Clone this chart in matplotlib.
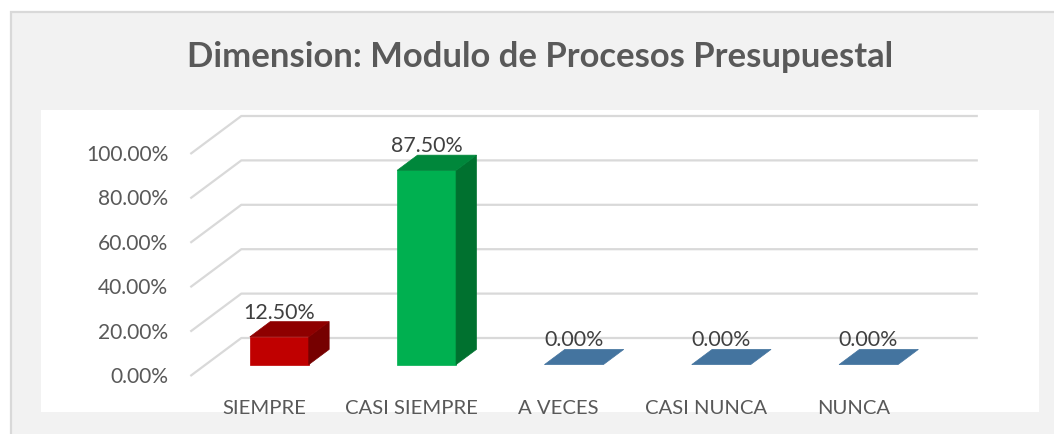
import matplotlib
matplotlib.use('Agg')
import matplotlib.pyplot as plt
from matplotlib.patches import Polygon, Rectangle

# ---------------- data ----------------
categories = ['SIEMPRE', 'CASI SIEMPRE', 'A VECES', 'CASI NUNCA', 'NUNCA']
values = [0.125, 0.875, 0.0, 0.0, 0.0]
value_labels = ['12.50%', '87.50%', '0.00%', '0.00%', '0.00%']
y_ticks = [0.0, 0.2, 0.4, 0.6, 0.8, 1.0]
y_tick_labels = ['0.00%', '20.00%', '40.00%', '60.00%', '80.00%', '100.00%']
title = 'Dimension: Modulo de Procesos Presupuestal'

front_colors = ['#C00000', '#00B050', '#44749F', '#44749F', '#44749F']
top_colors = ['#8E0000', '#00873B', '#44749F', '#44749F', '#44749F']
side_colors = ['#760000', '#00712F', '#35597A', '#35597A', '#35597A']

TEXT = '#595959'
GRID = '#D9D9D9'
plt.rcParams['font.family'] = ['Lato', 'DejaVu Sans']

W, H, DPI = 1054, 435, 100
fig = plt.figure(figsize=(W / DPI, H / DPI), dpi=DPI)
fig.patch.set_facecolor('white')

# chart area (grey panel with light border, cut at right/bottom)
fig.patches.append(Rectangle((11 / W, -0.1), 1.2, (H - 13) / H + 0.1,
                             transform=fig.transFigure, facecolor='#F2F2F2',
                             edgecolor=GRID, linewidth=1.6, zorder=-10))

ax = fig.add_axes([41 / W, (H - 413) / H, (1039 - 41) / W, (413 - 111) / H])
ax.set_zorder(5)
ax.set_facecolor('white')
for s in ax.spines.values():
    s.set_visible(False)
ax.set_xticks([])
ax.set_yticks([])
ax.set_xlim(-1.860, 4.915)
ax.set_ylim(-0.3333, 1.027)

# oblique depth vector (back wall -> front of floor), in data units
DX, DY = -0.3462, -0.1712
x_left, x_right = -0.5, len(categories) - 0.5
T_FRONT, T_BACK = 0.70, 0.30
HALF = 0.20

# gridlines: left wall diagonal + back wall line
for g in y_ticks:
    ax.plot([x_left + DX, x_left, x_right], [g + DY, g, g],
            color=GRID, lw=1.6, solid_capstyle='butt', zorder=1)

# bars
for k, v in enumerate(values):
    fx0 = k - HALF + T_FRONT * DX
    fx1 = k + HALF + T_FRONT * DX
    bx0 = k - HALF + T_BACK * DX
    bx1 = k + HALF + T_BACK * DX
    fy = T_FRONT * DY
    by = T_BACK * DY
    if v > 0:
        front = [(fx0, fy), (fx1, fy), (fx1, v + fy), (fx0, v + fy)]
        side = [(fx1, fy), (bx1, by), (bx1, v + by), (fx1, v + fy)]
        ax.add_patch(Polygon(front, closed=True, facecolor=front_colors[k],
                             edgecolor=front_colors[k], lw=0.5, zorder=3))
        ax.add_patch(Polygon(side, closed=True, facecolor=side_colors[k],
                             edgecolor=side_colors[k], lw=0.5, zorder=3))
    top = [(fx0, v + fy), (fx1, v + fy), (bx1, v + by), (bx0, v + by)]
    ax.add_patch(Polygon(top, closed=True, facecolor=top_colors[k],
                         edgecolor=top_colors[k], lw=0.5, zorder=3))

fig.canvas.draw()
renderer = fig.canvas.get_renderer()


def fit(txt, target_px):
    w = txt.get_window_extent(renderer).width
    txt.set_fontsize(txt.get_fontsize() * target_px / w)


# y tick labels
ticks = []
for g, lab in zip(y_ticks, y_tick_labels):
    t = ax.annotate(lab, (x_left + DX, g + DY), xytext=(-22, 0),
                    textcoords='offset pixels', ha='right', va='center',
                    color=TEXT, fontsize=14, zorder=5)
    ticks.append(t)
fig.canvas.draw()
fit(ticks[-1], 83)
for t in ticks:
    t.set_fontsize(ticks[-1].get_fontsize())

# category labels
cats = []
for k, c in enumerate(categories):
    t = ax.annotate(c, (k + DX, DY), xytext=(0, -31),
                    textcoords='offset pixels', ha='center', va='center',
                    color=TEXT, fontsize=14, zorder=5)
    cats.append(t)
fig.canvas.draw()
fit(cats[1], 133)
for t in cats:
    t.set_fontsize(cats[1].get_fontsize())

# value labels
vals = []
for k, (v, lab) in enumerate(zip(values, value_labels)):
    t = ax.annotate(lab, (k + T_FRONT * DX, v + T_BACK * DY), xytext=(0, 10),
                    textcoords='offset pixels', ha='center', va='center',
                    color='#404040', fontsize=14, zorder=6)
    vals.append(t)
fig.canvas.draw()
fit(vals[1], 72)
for t in vals:
    t.set_fontsize(vals[1].get_fontsize())

# title
tt = fig.text(540 / W, 1 - 57 / H, title, ha='center', va='center',
              fontsize=20, fontweight='bold', color=TEXT)
fig.canvas.draw()
fit(tt, 706)

fig.savefig('out.png', dpi=DPI, facecolor='white')
